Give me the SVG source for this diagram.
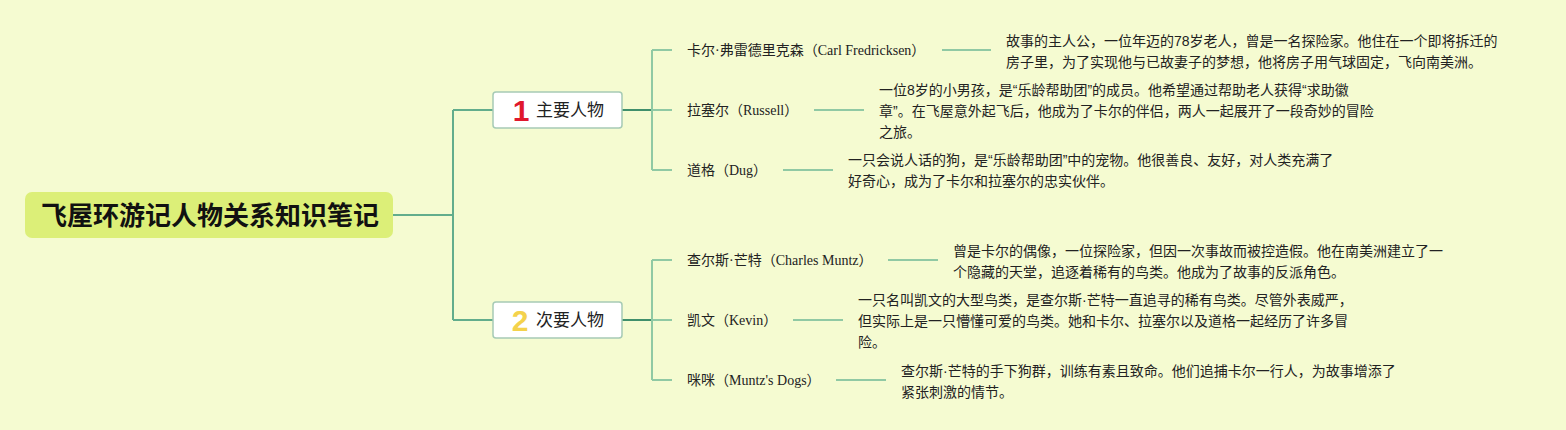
<svg xmlns="http://www.w3.org/2000/svg" width="1566" height="430" viewBox="0 0 1566 430">
<style>
.bg{fill:#f5fbd1}
.root{fill:#dcef78}
.roottxt{font-family:"Noto Sans CJK SC","Liberation Sans",sans-serif;font-weight:bold;font-size:26px;fill:#111}
.cat{fill:#ffffff;stroke:#a6cab5;stroke-width:1.5}
.cattxt{font-family:"Noto Sans CJK SC","Liberation Sans",sans-serif;font-size:17px;fill:#222}
.num{font-family:"Liberation Sans","DejaVu Sans",sans-serif;font-weight:bold;font-size:30px}
.lbl{font-family:"Liberation Serif","Noto Sans CJK SC",serif;font-size:14px;fill:#222}
.desc{font-family:"Liberation Sans","Noto Sans CJK SC",sans-serif;font-size:14px;fill:#222}
.c1{fill:none;stroke:#62ad8c;stroke-width:2}
.c2{fill:none;stroke:#3f8f6b;stroke-width:2}
.c3{fill:none;stroke:#90c9a4;stroke-width:2}
</style>
<rect class="bg" x="0" y="0" width="1566" height="430"/>
<g id="connectors">
  <path class="c1" d="M393,215 H453 M453,110 V320 M453,110 H493 M453,320 H493"/>
  <path class="c2" d="M622,110 H652 M622,320 H652"/>
  <path class="c3" d="M652,50 V170 M652,50 H672 M652,110 H672 M652,170 H672"/>
  <path class="c3" d="M652,260 V380 M652,260 H672 M652,320 H672 M652,380 H672"/>
  <path class="c3" d="M942,50 H991 M814,110 H864 M783,170 H833"/>
  <path class="c3" d="M888,260 H938 M793,320 H843 M836,380 H886"/>
</g>
<g id="root">
  <rect class="root" x="25" y="192" width="368" height="46" rx="7"/>
  <text class="roottxt" x="210" y="225" text-anchor="middle">飞屋环游记人物关系知识笔记</text>
</g>
<g id="cat-main">
  <rect class="cat" x="493" y="92" width="129" height="36" rx="3"/>
  <text class="num" x="521" y="121" text-anchor="middle" fill="#e0182d">1</text>
  <text class="cattxt" x="536" y="116">主要人物</text>
</g>
<g id="cat-secondary">
  <rect class="cat" x="493" y="302" width="129" height="36" rx="3"/>
  <text class="num" x="520" y="331" text-anchor="middle" fill="#f4d24c">2</text>
  <text class="cattxt" x="536" y="326">次要人物</text>
</g>
<g id="carl">
  <text class="lbl" x="687" y="55">卡尔·弗雷德里克森（Carl Fredricksen）</text>
</g>
<g id="carl-desc">
  <text class="desc" x="1006" y="46">故事的主人公，一位年迈的78岁老人，曾是一名探险家。他住在一个即将拆迁的</text>
  <text class="desc" x="1006" y="67">房子里，为了实现他与已故妻子的梦想，他将房子用气球固定，飞向南美洲。</text>
</g>
<g id="russell">
  <text class="lbl" x="687" y="115">拉塞尔（Russell）</text>
</g>
<g id="russell-desc">
  <text class="desc" x="879" y="95">一位8岁的小男孩，是“乐龄帮助团”的成员。他希望通过帮助老人获得“求助徽</text>
  <text class="desc" x="879" y="116">章”。在飞屋意外起飞后，他成为了卡尔的伴侣，两人一起展开了一段奇妙的冒险</text>
  <text class="desc" x="879" y="137">之旅。</text>
</g>
<g id="dug">
  <text class="lbl" x="687" y="175">道格（Dug）</text>
</g>
<g id="dug-desc">
  <text class="desc" x="848" y="165">一只会说人话的狗，是“乐龄帮助团”中的宠物。他很善良、友好，对人类充满了</text>
  <text class="desc" x="848" y="186">好奇心，成为了卡尔和拉塞尔的忠实伙伴。</text>
</g>
<g id="charles">
  <text class="lbl" x="687" y="265">查尔斯·芒特（Charles Muntz）</text>
</g>
<g id="charles-desc">
  <text class="desc" x="953" y="256">曾是卡尔的偶像，一位探险家，但因一次事故而被控造假。他在南美洲建立了一</text>
  <text class="desc" x="953" y="277">个隐藏的天堂，追逐着稀有的鸟类。他成为了故事的反派角色。</text>
</g>
<g id="kevin">
  <text class="lbl" x="687" y="325">凯文（Kevin）</text>
</g>
<g id="kevin-desc">
  <text class="desc" x="858" y="305">一只名叫凯文的大型鸟类，是查尔斯·芒特一直追寻的稀有鸟类。尽管外表威严，</text>
  <text class="desc" x="858" y="326">但实际上是一只懵懂可爱的鸟类。她和卡尔、拉塞尔以及道格一起经历了许多冒</text>
  <text class="desc" x="858" y="347">险。</text>
</g>
<g id="dogs">
  <text class="lbl" x="687" y="385">咪咪（Muntz's Dogs）</text>
</g>
<g id="dogs-desc">
  <text class="desc" x="901" y="376">查尔斯·芒特的手下狗群，训练有素且致命。他们追捕卡尔一行人，为故事增添了</text>
  <text class="desc" x="901" y="397">紧张刺激的情节。</text>
</g>
</svg>
